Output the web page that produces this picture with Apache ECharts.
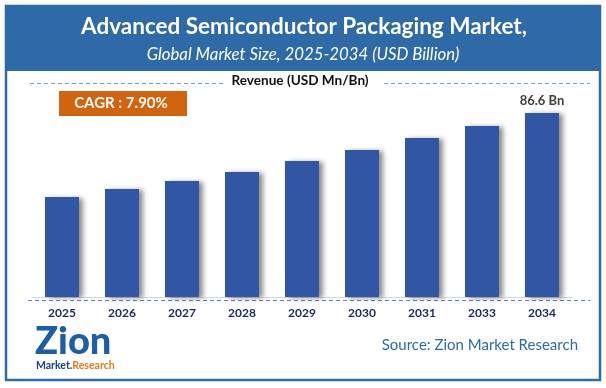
<!DOCTYPE html>
<html><head><meta charset="utf-8">
<script src="https://cdn.jsdelivr.net/npm/echarts@6/dist/echarts.min.js"></script>
<style>html,body{margin:0;padding:0;background:#fff}#c{width:606px;height:388px}</style>
</head><body><div id="c"></div>
<script>
var categories = ['2025','2026','2027','2028','2029','2030','2031','2033','2034'];
var revenue = [47.1, 50.8, 54.6, 58.8, 64.0, 69.2, 74.8, 80.5, 86.6];
var lastLabel = '86.6 Bn';
var titleText = 'Advanced Semiconductor Packaging Market,';
var subtitleText = 'Global Market Size, 2025-2034 (USD Billion)';
var axisName = 'Revenue (USD Mn/Bn)';
var cagrText = 'CAGR : 7.90%';
var sourceText = 'Source: Zion Market Research';

var FONT = 'Lato, "Open Sans", sans-serif';
var chart = echarts.init(document.getElementById('c'), null, {renderer:'canvas'});
chart.setOption({
  backgroundColor:'#ffffff',
  animation:false,
  grid:{left:32, right:34, top:84.6, bottom:91},
  xAxis:{type:'category', data:categories,
    axisLine:{show:true, lineStyle:{color:'#d9d9d9', width:1}},
    axisTick:{show:false},
    axisLabel:{color:'#1a2a5c', fontWeight:'bold', fontSize:12, fontFamily:FONT, margin:10}},
  yAxis:{type:'value', min:0, max:100, show:false, splitLine:{show:false}},
  series:[{type:'bar', data:revenue, barWidth:34,
    itemStyle:{color:'#3157a4', shadowColor:'rgba(0,0,0,0.45)', shadowBlur:5, shadowOffsetX:4, shadowOffsetY:1},
    label:{show:true, position:'top', distance:6, color:'#404040', fontWeight:'bold', fontSize:13, fontFamily:FONT,
      formatter:function(p){return p.dataIndex===categories.length-1 ? lastLabel : '';}}
  }],
  graphic:[
    {type:'rect', shape:{x:0,y:0,width:606,height:388}, style:{fill:'#fff'}, z:-10, silent:true},
    {type:'rect', shape:{x:6,y:6,width:594,height:65}, style:{fill:'#2d6aa7'}, z:1},
    {type:'rect', shape:{x:6,y:6,width:594,height:374}, style:{fill:null, stroke:'#2d6aa7', lineWidth:2.5}, z:1},
    {type:'text', x:304, y:27, style:{text:titleText, fill:'#fff', font:'bold 22.5px '+FONT, align:'center', verticalAlign:'middle'}, z:2},
    {type:'text', x:303, y:55, style:{text:subtitleText, fill:'#fff', font:'italic 16.8px '+FONT, align:'center', verticalAlign:'middle'}, z:2},
    {type:'line', shape:{x1:30,y1:83.5,x2:226,y2:83.5}, style:{stroke:'#7b9bd3', lineWidth:1, lineDash:[4,3]}, z:2},
    {type:'line', shape:{x1:384,y1:83.5,x2:590,y2:83.5}, style:{stroke:'#7b9bd3', lineWidth:1, lineDash:[4,3]}, z:2},
    {type:'text', x:300, y:81, style:{text:axisName, fill:'#111', font:'bold 13.6px '+FONT, align:'center', verticalAlign:'middle'}, z:2},
    {type:'rect', shape:{x:59,y:91,width:128,height:25}, style:{fill:'#d2630f'}, z:2},
    {type:'text', x:121, y:103.5, style:{text:cagrText, fill:'#fff', font:'bold 15px '+FONT, align:'center', verticalAlign:'middle'}, z:3},
    {type:'line', shape:{x1:28,y1:300.5,x2:590,y2:300.5}, style:{stroke:'#5a82c8', lineWidth:1, lineDash:[4,3]}, z:2},
    {type:'text', x:578, y:345, style:{text:sourceText, fill:'#2d6aa7', font:'15px '+FONT, align:'right', verticalAlign:'middle'}, z:2},
    {type:'text', x:35, y:342, style:{text:'Zion', fill:'#1d5ea9', font:'900 38px '+FONT, align:'left', verticalAlign:'middle'}, z:2},
    {type:'text', x:36, y:366, style:{rich:{a:{fill:'#1d3f8a', font:'bold 10.5px '+FONT}, b:{fill:'#e07b18', font:'bold 10.5px '+FONT}}, text:'{a|Market.}{b|Research}', align:'left', verticalAlign:'middle'}, z:2}
  ]
});
</script></body></html>
